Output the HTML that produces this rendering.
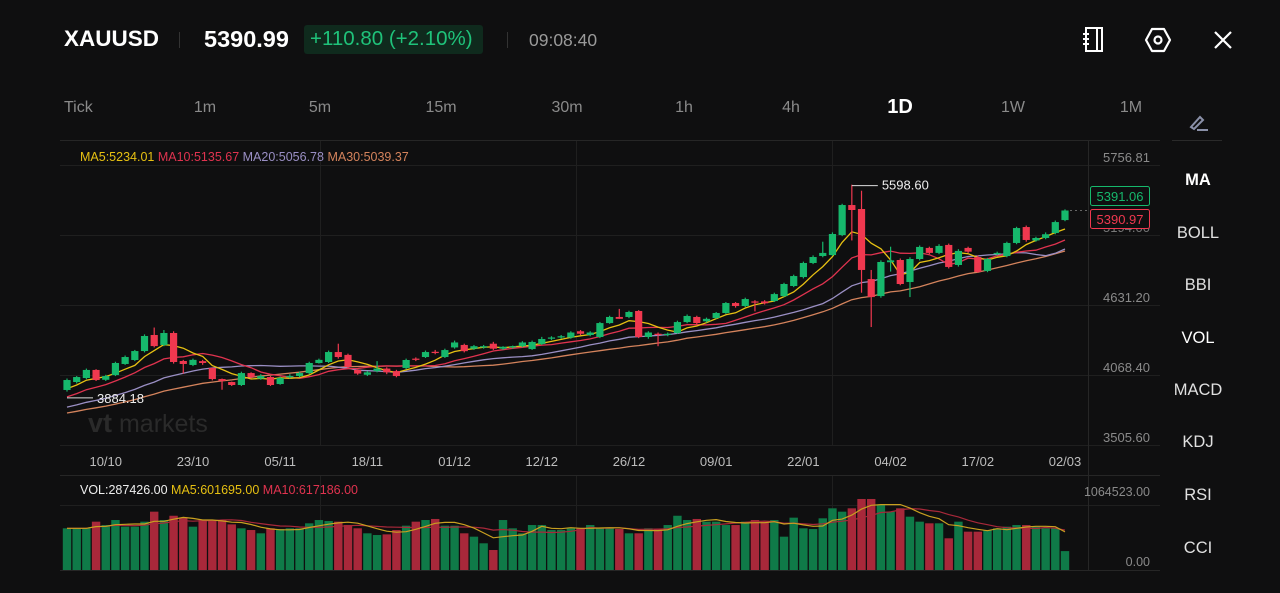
<!DOCTYPE html>
<html><head><meta charset="utf-8"><style>
html,body{margin:0;padding:0;background:#0f0f10;}
body{width:1280px;height:593px;overflow:hidden;font-family:"Liberation Sans",sans-serif;position:relative;}
.t{position:absolute;white-space:nowrap;}
</style></head><body>
<div class="t" style="left:64px;top:26px;font-size:22.5px;font-weight:bold;color:#fff;">XAUUSD</div>
<div class="t" style="left:179px;top:32px;width:1px;height:16px;background:#333;"></div>
<div class="t" style="left:204px;top:26px;font-size:23.5px;font-weight:bold;color:#fff;">5390.99</div>
<div class="t" style="left:304px;top:25px;width:179px;height:29px;background:#0f2a1d;border-radius:3px;"></div>
<div class="t" style="left:310px;top:27px;font-size:20.5px;color:#1fc27a;">+110.80 (+2.10%)</div>
<div class="t" style="left:507px;top:32px;width:1px;height:16px;background:#333;"></div>
<div class="t" style="left:529px;top:30px;font-size:17.5px;color:#9a9a9a;">09:08:40</div>
<svg class="t" style="left:1080px;top:26px" width="26" height="28" viewBox="0 0 26 28"><rect x="6" y="2" width="16" height="23" fill="none" stroke="#fff" stroke-width="2"/><line x1="17" y1="3" x2="17" y2="24" stroke="#fff" stroke-width="2"/><line x1="3" y1="8" x2="9" y2="8" stroke="#fff" stroke-width="2"/><line x1="3" y1="13" x2="9" y2="13" stroke="#fff" stroke-width="2"/><line x1="3" y1="18" x2="9" y2="18" stroke="#fff" stroke-width="2"/></svg>
<svg class="t" style="left:1144px;top:26px" width="28" height="28" viewBox="0 0 28 28"><polygon points="8,3 20,3 26,14 20,25 8,25 2,14" fill="none" stroke="#fff" stroke-width="2.2" stroke-linejoin="round"/><circle cx="14" cy="14" r="3.5" fill="none" stroke="#fff" stroke-width="2.2"/></svg>
<svg class="t" style="left:1212px;top:29px" width="22" height="22" viewBox="0 0 22 22"><path d="M3 3L19 19M19 3L3 19" stroke="#fff" stroke-width="2.2"/></svg>

<div id="tf"></div>
<svg class="t" style="left:1188px;top:112px" width="22" height="20" viewBox="0 0 22 20"><path d="M3 15L12 5L15 8L6 17Z" fill="none" stroke="#8a90a8" stroke-width="2"/><line x1="9" y1="18" x2="20" y2="18" stroke="#8a90a8" stroke-width="2"/></svg>
<div class="t" style="left:1172px;top:140px;width:50px;height:1px;background:#2a2a2a;"></div>
<div id="side"></div>

<svg id="chart" class="t" style="left:0;top:0" width="1280" height="593"></svg>
<script>
// ---- data ----
const dates=["10/10","23/10","05/11","18/11","01/12","12/12","26/12","09/01","22/01","04/02","17/02","02/03"];
const dateIdx=[4,13,22,31,40,49,58,67,76,85,94,103];
const priceTicks=[5756.81,4631.20,4068.40,3505.60];
const priorCloses=[3640,3650,3660,3645,3670,3690,3700,3680,3680,3675,3690,3700,3720,3710,3730,3740,3750,3740,3760,3740,3780,3800,3830,3850,3870,3900,3920,3950,3992];
const opens=[3948,4012,4044,4109,4030,4068,4157,4189,4261,4390,4310,4406,4181,4149,4180,4125,4036,4012,3988,4084,4040,4052,3996,4050,4060,4084,4165,4173,4253,4230,4110,4070,4100,4120,4100,4125,4200,4213,4255,4213,4290,4310,4280,4290,4320,4280,4290,4300,4277,4318,4360,4370,4370,4420,4390,4374,4486,4535,4535,4583,4374,4400,4390,4406,4494,4535,4500,4527,4567,4647,4623,4660,4660,4663,4703,4784,4856,4969,5025,5033,5194,5435,5403,4840,4703,4975,4993,4816,5001,5090,5050,5114,4953,5090,5017,4905,5040,5025,5130,5258,5150,5170,5210,5314];
const closes=[4028,4052,4109,4028,4060,4165,4213,4261,4382,4301,4406,4173,4157,4190,4165,4036,4020,3988,4084,4052,4060,3988,4044,4060,4084,4165,4190,4253,4213,4133,4080,4090,4120,4090,4060,4189,4190,4253,4245,4269,4330,4260,4300,4300,4280,4295,4300,4330,4334,4358,4370,4380,4410,4400,4410,4486,4535,4520,4575,4374,4410,4390,4400,4494,4543,4486,4520,4567,4647,4623,4679,4650,4645,4719,4800,4864,4969,5017,5050,5202,5435,5395,4913,4695,4977,4990,4800,5001,5098,5050,5106,4937,5066,5060,4897,5001,5050,5130,5250,5154,5170,5200,5298,5391.06];
const highs=[4040,4060,4120,4115,4070,4175,4225,4270,4395,4450,4430,4420,4190,4200,4190,4130,4040,4015,4095,4090,4075,4060,4055,4075,4095,4175,4200,4265,4320,4240,4115,4100,4180,4130,4110,4200,4210,4265,4270,4280,4345,4320,4310,4310,4335,4300,4305,4340,4345,4375,4380,4390,4420,4430,4420,4495,4545,4600,4585,4590,4420,4410,4410,4505,4555,4545,4530,4575,4655,4655,4690,4670,4670,4730,4810,4875,4980,5030,5140,5215,5445,5598.6,5550,4913,4990,5100,5005,5015,5110,5100,5120,5125,5080,5100,5030,5010,5060,5140,5260,5270,5180,5215,5310,5400];
const lows=[3935,4000,4035,4020,4020,4060,4150,4180,4250,4290,4300,4160,4080,4140,4150,4025,3950,3980,3980,4040,4030,3980,3990,4040,4050,4075,4160,4165,4200,4125,4070,4060,4090,4075,4050,4115,4180,4205,4235,4205,4280,4250,4270,4280,4270,4270,4280,4290,4270,4310,4350,4360,4360,4390,4380,4365,4480,4520,4525,4365,4360,4300,4380,4400,4485,4475,4490,4520,4560,4610,4615,4580,4635,4655,4695,4775,4845,4960,5015,5025,5185,5150,4730,4454,4690,4900,4790,4695,4990,5040,5040,4925,4940,5050,4890,4895,5030,5015,5120,5140,5140,5160,5200,5305];
const volumes=[634,634,634,735,684,760,659,659,735,887,760,825,795,659,760,760,760,694,634,608,558,634,623,634,634,710,760,745,735,684,634,558,532,542,608,674,735,760,776,674,674,558,507,406,304,760,634,558,684,684,608,608,634,634,684,634,634,623,558,558,634,623,684,825,760,776,735,735,684,684,735,760,735,760,507,796,634,623,786,938,887,938,1080,1080,989,887,938,811,735,710,710,482,735,583,583,608,634,659,684,684,659,634,634,287.426];
const volTicks=[1064523.00,0];

// ---- helpers ----
const NS="http://www.w3.org/2000/svg";
const svg=document.getElementById('chart');
function mk(tag,attrs,parent){const e=document.createElementNS(NS,tag);for(const k in attrs)e.setAttribute(k,attrs[k]);(parent||svg).appendChild(e);return e;}
const N=closes.length;
const X0=67,X1=1065;
function xS(i){return X0+(X1-X0)*i/(N-1);}
const PTOP=5756.81,PBOT=3505.60,YT=165,YB=445;
function yP(p){return YT+(PTOP-p)/(PTOP-PBOT)*(YB-YT);}
const VMAX=1064523,VY0=570,VY1=500;
function yV(v){return VY0-(v*1000)/VMAX*(VY0-VY1);}

// grid
const g=mk('g',{});


mk('line',{x1:60,x2:1160,y1:140.5,y2:140.5,stroke:'#262626'},g);
[165,235,305,375,445].forEach(y=>mk('line',{x1:60,x2:1160,y1:y+.5,y2:y+.5,stroke:'#1f1f1f'},g));
mk('line',{x1:60,x2:1160,y1:475.5,y2:475.5,stroke:'#262626'},g);
mk('line',{x1:60,x2:1160,y1:505.5,y2:505.5,stroke:'#1f1f1f'},g);
mk('line',{x1:60,x2:1160,y1:570.5,y2:570.5,stroke:'#262626'},g);
[320,576,832].forEach(x=>{mk('line',{x1:x+.5,x2:x+.5,y1:141,y2:445,stroke:'#1f1f1f'},g);mk('line',{x1:x+.5,x2:x+.5,y1:476,y2:570,stroke:'#1f1f1f'},g);});
mk('line',{x1:1088.5,x2:1088.5,y1:141,y2:570,stroke:'#262626'},g);

// watermark
const wm=mk('text',{x:88,y:432,fill:'#2a2a2a','font-size':25,'font-family':'Liberation Sans, sans-serif'});


wm.innerHTML='<tspan font-weight="bold" font-size="27">vt</tspan> markets';

// price ticks
priceTicks.forEach(p=>{const t=mk('text',{x:1150,y:yP(p)-3,fill:'#8a8a8a','font-size':13,'text-anchor':'end'});


t.textContent=p.toFixed(2);});
const hid=mk('text',{x:1150,y:232,fill:'#777','font-size':13,'text-anchor':'end'});hid.textContent='5194.00';



// dates
dates.forEach((d,k)=>{const t=mk('text',{x:xS(dateIdx[k]),y:466,fill:'#bdbdbd','font-size':13,'text-anchor':'middle'});


t.textContent=d;});

// MAs
const allC=priorCloses.concat(closes);
function ma(n,i){const j=i+priorCloses.length;let s=0;for(let k=j-n+1;k<=j;k++)s+=allC[k];return s/n;}
[[30,'#d4835c'],[20,'#9a8fc4'],[10,'#e0334f'],[5,'#e6c012']].forEach(([n,c])=>{
 let d='';for(let i=0;i<N;i++)d+=(i?'L':'M')+xS(i).toFixed(1)+' '+yP(ma(n,i)).toFixed(1);
 const p=mk('path',{d:d,fill:'none',stroke:c,'stroke-width':1.3});
 
 
});

// candles
for(let i=0;i<N;i++){
 const up=closes[i]>=opens[i];const col=up?'#16b86c':'#f0384f';const x=xS(i);
 const cg=mk('g',{});
 
 
 mk('line',{x1:x,x2:x,y1:yP(highs[i]),y2:yP(lows[i]),stroke:col,'stroke-width':1.2},cg);
 const t=yP(Math.max(opens[i],closes[i])),b=yP(Math.min(opens[i],closes[i]));
 mk('rect',{x:x-3.6,y:t,width:7.2,height:Math.max(1.2,b-t),fill:col},cg);
}
// high/low labels
let hi=0,lo=0;for(let i=0;i<N;i++){if(highs[i]>highs[hi])hi=i;if(lows[i]<lows[lo])lo=i;}
mk('line',{x1:xS(hi),x2:xS(hi)+26,y1:yP(highs[hi])+1,y2:yP(highs[hi])+1,stroke:'#ddd'});
const hl=mk('text',{x:xS(hi)+30,y:yP(highs[hi])+5,fill:'#eee','font-size':13});hl.textContent=highs[hi].toFixed(2);


mk('line',{x1:xS(lo),x2:xS(lo)+26,y1:yP(3884.18),y2:yP(3884.18),stroke:'#ddd'});
const ll=mk('text',{x:xS(lo)+30,y:yP(3884.18)+5,fill:'#eee','font-size':13});ll.textContent='3884.18';



// current price
const yc=yP(closes[N-1]);
mk('line',{x1:xS(N-1)+5,x2:1090,y1:yc,y2:yc,stroke:'#666','stroke-dasharray':'2 3'});
const tg=mk('g',{});


mk('rect',{x:1090.5,y:186.5,width:59,height:19,fill:'#0f0f10',stroke:'#16b86c',rx:2},tg);
mk('text',{x:1120,y:201,fill:'#16b86c','font-size':13,'text-anchor':'middle'},tg).textContent='5391.06';
const tr=mk('g',{});


mk('rect',{x:1090.5,y:209.5,width:59,height:19,fill:'#0f0f10',stroke:'#f0384f',rx:2},tr);
mk('text',{x:1120,y:224,fill:'#f0384f','font-size':13,'text-anchor':'middle'},tr).textContent='5390.97';

// MA legend
const leg=mk('text',{x:80,y:161,'font-size':12.5});


leg.innerHTML='<tspan fill="#e6c012">MA5:5234.01 </tspan><tspan fill="#e0334f">MA10:5135.67 </tspan><tspan fill="#9a8fc4">MA20:5056.78 </tspan><tspan fill="#d4835c">MA30:5039.37</tspan>';

// volume
for(let i=0;i<N;i++){
 const up=closes[i]>=opens[i];const x=xS(i);const y=yV(volumes[i]);
 const r=mk('rect',{x:x-4.2,y:y,width:8.4,height:VY0-y,fill:up?'#0f7a48':'#a8283a'});
 
 
}
function vma(n,i){let s=0,c=0;for(let k=Math.max(0,i-n+1);k<=i;k++){s+=volumes[k];c++;}return s/c;}
[[10,'#a8283a'],[5,'#c9a020']].forEach(([n,c])=>{let d='';for(let i=0;i<N;i++)d+=(i?'L':'M')+xS(i).toFixed(1)+' '+yV(vma(n,i)).toFixed(1);
 const p=mk('path',{d:d,fill:'none',stroke:c,'stroke-width':1.2});
 
 });
volTicks.forEach(v=>{const t=mk('text',{x:1150,y:yV(v/1000)-4,fill:'#8a8a8a','font-size':12.5,'text-anchor':'end'});
 
 
 t.textContent=v.toFixed(2);});
const vl=mk('text',{x:80,y:494,'font-size':12.5});


vl.innerHTML='<tspan fill="#eee">VOL:287426.00 </tspan><tspan fill="#e6c012">MA5:601695.00 </tspan><tspan fill="#e0334f">MA10:617186.00</tspan>';

// timeframe tabs
const tfs=[["Tick",64],["1m",205],["5m",320],["15m",441],["30m",567],["1h",684],["4h",791],["1D",900],["1W",1013],["1M",1131]];
const tf=document.getElementById('tf');
tfs.forEach(([t,x])=>{const d=document.createElement('div');d.className='t';
 
 
 const act=t==='1D';
 d.style.cssText='top:'+(act?96:99)+'px;font-size:'+(act?20:16)+'px;color:'+(act?'#fff':'#8a8a8a')+';font-weight:'+(act?'bold':'normal')+';'+(t==='Tick'?'left:'+x+'px;':'left:'+x+'px;transform:translateX(-50%);');
 d.textContent=t;tf.appendChild(d);});
// sidebar
const side=[["MA",178],["BOLL",231],["BBI",283],["VOL",336],["MACD",388],["KDJ",440],["RSI",493],["CCI",546]];
const sd=document.getElementById('side');
side.forEach(([t,y])=>{const d=document.createElement('div');d.className='t';
 
 
 const b=(t==='MA'||t==='VOL');
 d.style.cssText='left:1198px;top:'+(y-7)+'px;transform:translateX(-50%);font-size:16.5px;color:'+(b?'#fff':'#e0e0e0')+';font-weight:'+(t==='MA'?'bold':'normal')+';';
 d.textContent=t;sd.appendChild(d);});
</script>
</body></html>
